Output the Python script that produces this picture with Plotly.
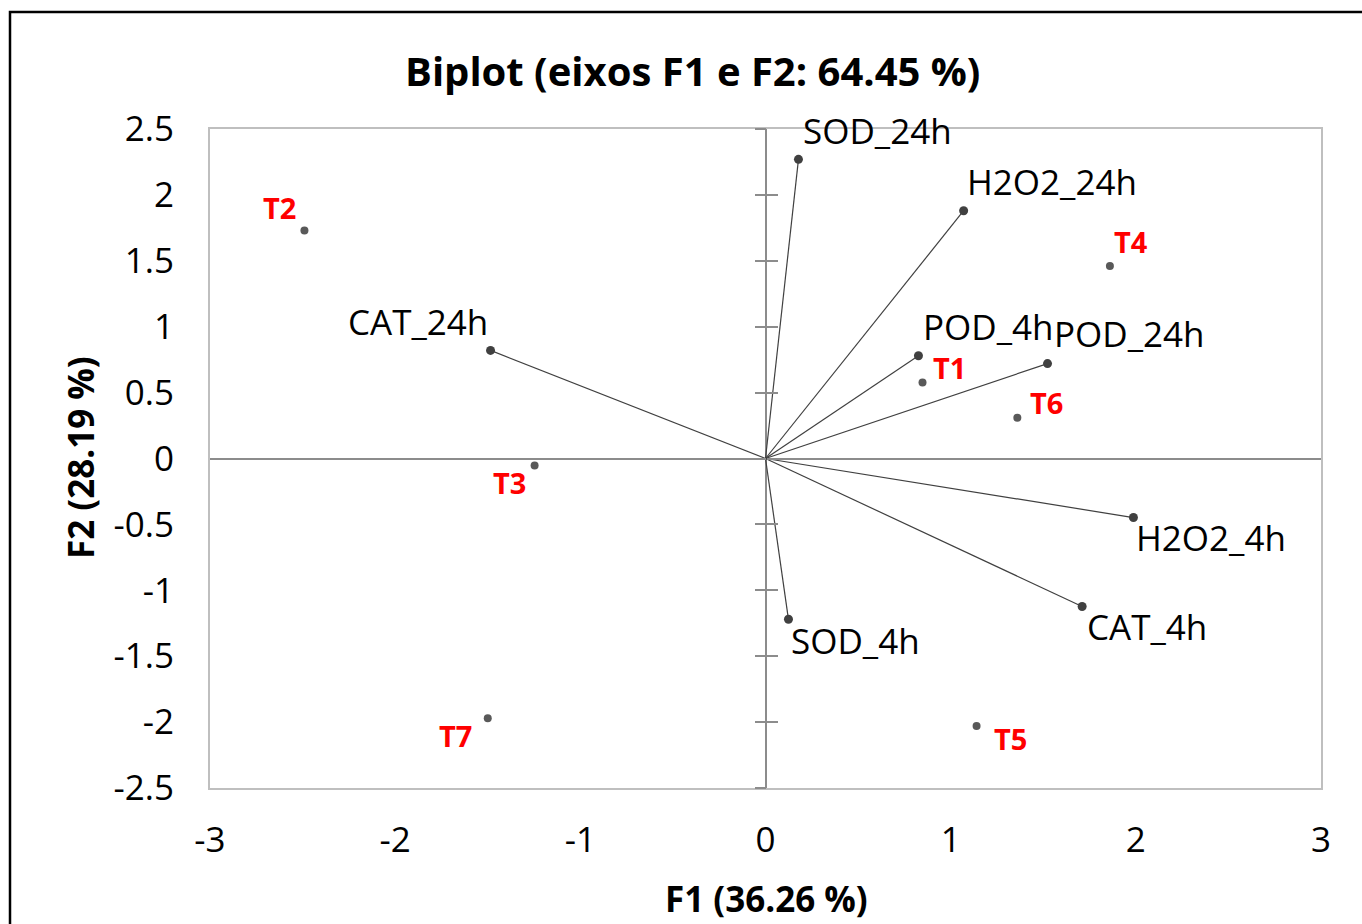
import plotly.graph_objects as go

# ---- data ----
var_names = ["SOD_24h", "H2O2_24h", "CAT_24h", "POD_4h", "POD_24h", "H2O2_4h", "CAT_4h", "SOD_4h"]
var_f1 = [0.178, 1.07, -1.485, 0.826, 1.523, 1.987, 1.71, 0.124]
var_f2 = [2.27, 1.88, 0.82, 0.78, 0.72, -0.448, -1.123, -1.22]

obs_names = ["T1", "T2", "T3", "T4", "T5", "T6", "T7"]
obs_f1 = [0.848, -2.49, -1.247, 1.86, 1.14, 1.36, -1.50]
obs_f2 = [0.577, 1.73, -0.053, 1.46, -2.03, 0.31, -1.97]

x_ticks = [-3, -2, -1, 0, 1, 2, 3]
y_ticks = [-2.5, -2, -1.5, -1, -0.5, 0, 0.5, 1, 1.5, 2, 2.5]

title_text = "Biplot (eixos F1 e F2: 64.45 %)"
x_title = "F1 (36.26 %)"
y_title = "F2 (28.19 %)"

# ---- label styling (anchor, xshift, yshift) ----
var_label_style = [("left", 3, 29), ("left", 1, 29), ("right", -1, 29), ("left", 3, 29),
                   ("left", 4, 30), ("left", 1, -20), ("left", 3, -20), ("left", 1, -21)]
obs_label_style = [("left", 8, 15), ("right", -6, 23), ("right", -7, -17), ("left", 2, 25),
                   ("left", 15, -12), ("left", 11, 15), ("right", -14, -17)]

FONT = "Open Sans"

fig = go.Figure()

# vectors from origin
for n, x, y in zip(var_names, var_f1, var_f2):
    fig.add_trace(go.Scatter(x=[0, x], y=[0, y], mode="lines",
                             line=dict(color="#404040", width=1.2),
                             hoverinfo="skip", showlegend=False))

fig.add_trace(go.Scatter(x=var_f1, y=var_f2, mode="markers", text=var_names,
                         marker=dict(color="#404040", size=9), showlegend=False))
fig.add_trace(go.Scatter(x=obs_f1, y=obs_f2, mode="markers", text=obs_names,
                         marker=dict(color="#595959", size=8), showlegend=False))

annotations = []
for n, x, y, (anc, xs, ys) in zip(var_names, var_f1, var_f2, var_label_style):
    annotations.append(dict(x=x, y=y, text=n, showarrow=False, xanchor=anc, yanchor="middle",
                            xshift=xs, yshift=ys, font=dict(family=FONT, size=35, color="black")))
for n, x, y, (anc, xs, ys) in zip(obs_names, obs_f1, obs_f2, obs_label_style):
    annotations.append(dict(x=x, y=y, text="<b>" + n + "</b>", showarrow=False, xanchor=anc,
                            yanchor="middle", xshift=xs, yshift=ys,
                            font=dict(family=FONT, size=29, color="#ff0000")))

W, H = 1362, 924
L, R, T, B = 210, 41, 129, 136
pw, ph = W - L - R, H - T - B

def px_to_paper(px, py):
    return (px - L) / pw, 1 - (py - T) / ph

# axis titles and chart title as annotations
tx, ty = px_to_paper(766, 898)
annotations.append(dict(xref="paper", yref="paper", x=tx, y=ty, text="<b>" + x_title + "</b>",
                        showarrow=False, xanchor="center", yanchor="middle",
                        font=dict(family=FONT, size=35, color="black")))
tx, ty = px_to_paper(80, 458)
annotations.append(dict(xref="paper", yref="paper", x=tx, y=ty, text="<b>" + y_title + "</b>",
                        showarrow=False, xanchor="center", yanchor="middle", textangle=-90,
                        font=dict(family=FONT, size=35, color="black")))
tx, ty = px_to_paper(692, 70)
annotations.append(dict(xref="paper", yref="paper", x=tx, y=ty, text="<b>" + title_text + "</b>",
                        showarrow=False, xanchor="center", yanchor="middle",
                        font=dict(family=FONT, size=40, color="black")))

# outer black frame
fx0, fy0 = px_to_paper(10, 12)
fx1, fy1 = px_to_paper(1372, 940)
shapes = [dict(type="rect", xref="paper", yref="paper", x0=fx0, y0=fy1, x1=fx1, y1=fy0,
               line=dict(color="black", width=2.5), fillcolor="rgba(0,0,0,0)", layer="above")]

fig.update_layout(
    width=W, height=H,
    margin=dict(l=L, r=R, t=T, b=B, pad=0),
    paper_bgcolor="white", plot_bgcolor="white",
    font=dict(family=FONT, size=35, color="black"),
    annotations=annotations, shapes=shapes,
    xaxis=dict(range=[-3, 3], tickvals=x_ticks, ticktext=[str(v) for v in x_ticks],
               showgrid=False, zeroline=True, zerolinecolor="#8c8c8c", zerolinewidth=1.5,
               showline=True, linecolor="#bfbfbf", linewidth=2, mirror=True,
               ticks="", ticklabelstandoff=20, tickfont=dict(family=FONT, size=35, color="black")),
    yaxis=dict(range=[-2.5, 2.5], tickvals=y_ticks, ticktext=[str(v) for v in y_ticks],
               showgrid=False, zeroline=True, zerolinecolor="#8c8c8c", zerolinewidth=1.5,
               showline=True, linecolor="#bfbfbf", linewidth=2, mirror=True,
               ticks="", ticklabelstandoff=27, tickfont=dict(family=FONT, size=35, color="black")),
    yaxis2=dict(range=[-2.5, 2.5], tickvals=y_ticks, overlaying="y", anchor="free", position=0.5,
                side="left", showline=False, showgrid=False, zeroline=False, showticklabels=False,
                ticks="outside", ticklen=11, tickcolor="#8c8c8c", tickwidth=1.5),
    yaxis3=dict(range=[-2.5, 2.5], tickvals=y_ticks, overlaying="y", anchor="free", position=0.5,
                side="left", showline=False, showgrid=False, zeroline=False, showticklabels=False,
                ticks="inside", ticklen=11, tickcolor="#8c8c8c", tickwidth=1.5),
)

# invisible traces to activate the tick axes
fig.add_trace(go.Scatter(x=[0], y=[0], yaxis="y2", mode="markers", marker=dict(opacity=0),
                         hoverinfo="skip", showlegend=False))
fig.add_trace(go.Scatter(x=[0], y=[0], yaxis="y3", mode="markers", marker=dict(opacity=0),
                         hoverinfo="skip", showlegend=False))

fig.write_html("out.html")
